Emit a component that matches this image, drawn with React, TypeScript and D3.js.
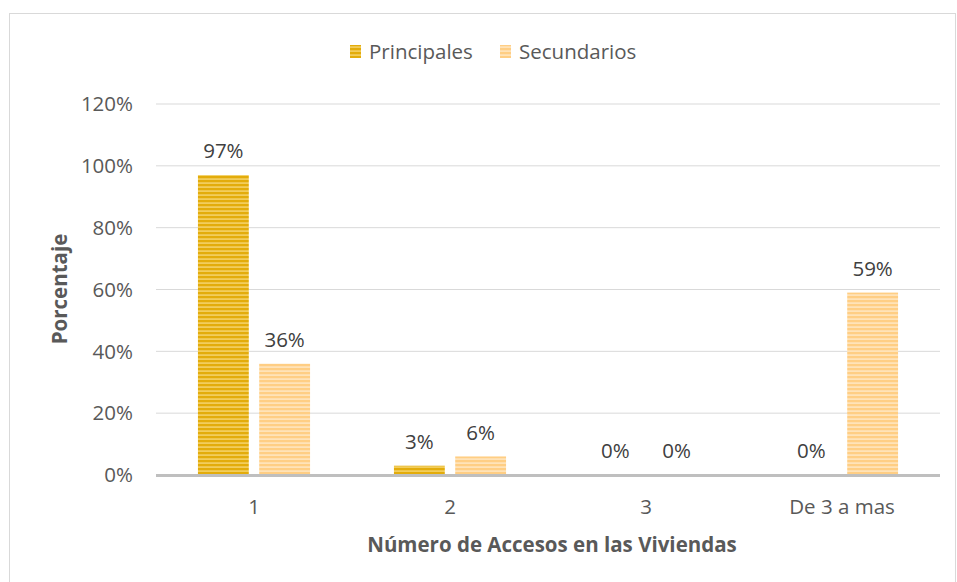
import React from "react";
import * as d3 from "d3";

const categories = ["1", "2", "3", "De 3 a mas"];
const seriesNames = ["Principales", "Secundarios"];
const principales = [97, 3, 0, 0];
const secundarios = [36, 6, 0, 59];
const yTicks = [0, 20, 40, 60, 80, 100, 120];

const W = 957;
const H = 582;
const FONT = "'Open Sans', 'Noto Sans', sans-serif";
const TEXT = "#595959";

export default function App() {
  const margin = { left: 156, right: 17, top: 104, bottom: 107 };
  const plotRight = W - margin.right;
  const plotBottom = H - margin.bottom;
  const x0 = d3.scaleBand<string>().domain(categories).range([margin.left, plotRight]).paddingInner(0).paddingOuter(0);
  const bw = x0.bandwidth();
  const x1 = d3.scaleBand<string>().domain(seriesNames).range([bw * 0.214, bw * 0.786]).paddingInner(0.17).paddingOuter(0);
  const y = d3.scaleLinear().domain([0, 120]).range([plotBottom, margin.top]);
  const values = [principales, secundarios];
  const fills = ["url(#patP)", "url(#patS)"];

  return (
    <svg width={W} height={H} style={{ position: "absolute", left: 0, top: 0, background: "#fff" }} fontFamily={FONT}>
      <defs>
        <pattern id="patP" patternUnits="userSpaceOnUse" width={8} height={4}>
          <rect width={8} height={4} fill="#F2CD5C" />
          <rect width={8} height={2.2} fill="#E3AC0B" />
        </pattern>
        <pattern id="patS" patternUnits="userSpaceOnUse" width={8} height={4}>
          <rect width={8} height={4} fill="#FFE3B8" />
          <rect width={8} height={2.2} fill="#FFCE84" />
        </pattern>
      </defs>
      <rect x={9.5} y={13.5} width={946} height={580} fill="#fff" stroke="#D9D9D9" strokeWidth={1} />
      {/* gridlines */}
      {yTicks.filter((t) => t > 0).map((t) => (
        <line key={t} x1={margin.left} x2={plotRight} y1={y(t)} y2={y(t)} stroke="#D9D9D9" strokeWidth={1} />
      ))}
      {/* y tick labels */}
      {yTicks.map((t) => (
        <text key={t} x={133} y={y(t)} dy="0.35em" textAnchor="end" fontSize={20.5} fill={TEXT}>
          {t + "%"}
        </text>
      ))}
      {/* bars */}
      {categories.map((c, i) =>
        seriesNames.map((s, j) => {
          const v = values[j][i];
          const bx = (x0(c) as number) + (x1(s) as number);
          return (
            <g key={c + s}>
              {v > 0 && (
                <rect x={bx} y={y(v)} width={x1.bandwidth()} height={plotBottom - y(v)} fill={fills[j]} />
              )}
              <text x={bx + x1.bandwidth() / 2} y={y(v) - 24} dy="0.35em" textAnchor="middle" fontSize={20.5} fill="#404040">
                {v + "%"}
              </text>
            </g>
          );
        })
      )}
      {/* x axis */}
      <line x1={margin.left} x2={plotRight} y1={plotBottom + 0.5} y2={plotBottom + 0.5} stroke="#BFBFBF" strokeWidth={3} />
      {categories.map((c) => (
        <text key={c} x={(x0(c) as number) + bw / 2} y={507} dy="0.35em" textAnchor="middle" fontSize={20.5} fill={TEXT}>
          {c}
        </text>
      ))}
      {/* axis titles */}
      <text x={(margin.left + plotRight) / 2 + 4} y={545} dy="0.35em" textAnchor="middle" fontSize={20.5} fontWeight="bold" fill={TEXT}>
        Número de Accesos en las Viviendas
      </text>
      <text transform={`translate(60, ${289}) rotate(-90)`} textAnchor="middle" dy="0.35em" fontSize={20.5} fontWeight="bold" fill={TEXT}>
        Porcentaje
      </text>
      {/* legend */}
      <rect x={350} y={45} width={11} height={13} fill="url(#patP)" />
      <text x={369} y={52} dy="0.35em" fontSize={20.5} fill={TEXT}>Principales</text>
      <rect x={500} y={45} width={11} height={13} fill="url(#patS)" />
      <text x={519} y={52} dy="0.35em" fontSize={20.5} fill={TEXT}>Secundarios</text>
    </svg>
  );
}
